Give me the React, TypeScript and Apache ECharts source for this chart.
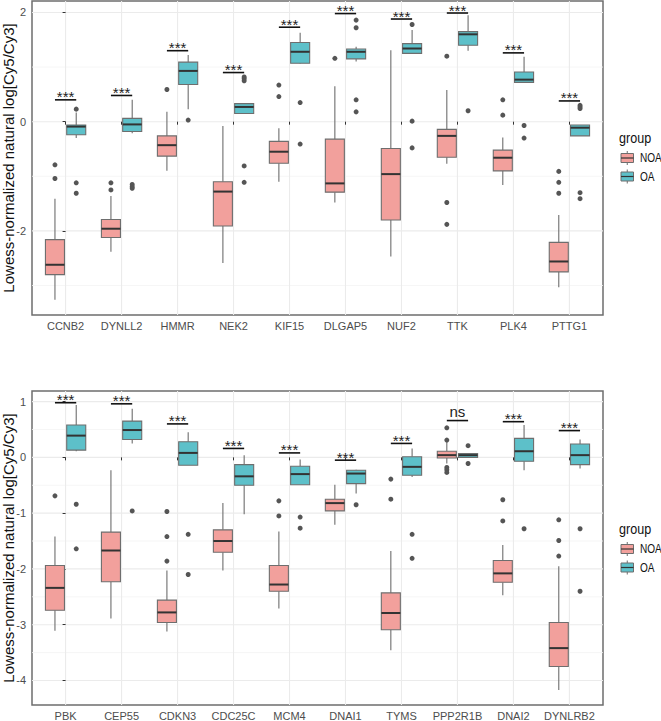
import React, { useEffect, useRef } from "react";
import * as echarts from "echarts";

// ---------------- DATA ----------------
const genesTop = ["CCNB2", "DYNLL2", "HMMR", "NEK2", "KIF15", "DLGAP5", "NUF2", "TTK", "PLK4", "PTTG1"];
const genesBottom = ["PBK", "CEP55", "CDKN3", "CDC25C", "MCM4", "DNAI1", "TYMS", "PPP2R1B", "DNAI2", "DYNLRB2"];
const groups = ["NOA", "OA"];

// [lower whisker, Q1, median, Q3, upper whisker]
const noaTop = [
  [-3.26, -2.8, -2.62, -2.16, -1.41],
  [-2.38, -2.12, -1.96, -1.79, -1.36],
  [-0.9, -0.63, -0.43, -0.26, 0.18],
  [-2.59, -1.91, -1.28, -1.1, -0.08],
  [-1.1, -0.76, -0.55, -0.36, -0.12],
  [-1.48, -1.29, -1.13, -0.32, 0.65],
  [-2.47, -1.8, -0.96, -0.49, 1.31],
  [-0.77, -0.65, -0.26, -0.14, 0.58],
  [-1.16, -0.9, -0.66, -0.52, -0.29],
  [-3.03, -2.75, -2.56, -2.21, -1.71],
];
const oaTop = [
  [-0.3, -0.24, -0.09, -0.06, 0.17],
  [-0.21, -0.18, -0.05, 0.06, 0.4],
  [0.23, 0.68, 0.93, 1.09, 1.22],
  [0.15, 0.15, 0.27, 0.33, 0.33],
  [1.06, 1.07, 1.28, 1.45, 1.63],
  [1.1, 1.15, 1.28, 1.33, 1.37],
  [1.24, 1.25, 1.34, 1.43, 1.68],
  [1.3, 1.4, 1.6, 1.65, 1.95],
  [0.71, 0.72, 0.77, 0.91, 1.19],
  [-0.26, -0.26, -0.11, -0.06, -0.06],
];
const noaOutTop = [
  [-0.79, -1.04],
  [-1.12, -1.25],
  [0.59],
  [],
  [0.67, 0.46],
  [1.16],
  [],
  [1.2, -1.48, -1.88],
  [0.4, 0.12],
  [-0.91, -1.11, -1.31],
];
const oaOutTop = [
  [0.23, -1.12, -1.31],
  [-1.15, -1.19, -1.22],
  [0.03],
  [0.82, 0.79, 0.75, -0.81, -1.11],
  [0.35, -0.41],
  [1.86, 1.72, 0.4, 0.18],
  [1.78, 0.01, -0.48],
  [0.2],
  [-0.07, -0.3],
  [0.3, 0.27, 0.24, -1.3, -1.41],
];
const sigTop = ["***", "***", "***", "***", "***", "***", "***", "***", "***", "***"];
const bracketYTop = [0.4, 0.48, 1.3, 0.9, 1.73, 1.98, 1.88, 1.99, 1.26, 0.38];

const noaBottom = [
  [-3.11, -2.74, -2.34, -1.94, -1.42],
  [-2.89, -2.23, -1.67, -1.34, -0.23],
  [-3.12, -2.96, -2.78, -2.56, -2.03],
  [-2.03, -1.7, -1.5, -1.3, -0.82],
  [-2.71, -2.4, -2.28, -1.94, -1.33],
  [-1.21, -0.96, -0.82, -0.75, -0.49],
  [-3.46, -3.09, -2.79, -2.43, -1.68],
  [-0.11, -0.01, 0.04, 0.11, 0.28],
  [-2.47, -2.24, -2.08, -1.85, -1.57],
  [-4.17, -3.75, -3.42, -2.96, -1.95],
];
const oaBottom = [
  [0.11, 0.13, 0.39, 0.58, 0.94],
  [0.25, 0.32, 0.49, 0.65, 0.87],
  [-0.14, -0.14, 0.08, 0.28, 0.45],
  [-1.02, -0.5, -0.34, -0.13, 0.04],
  [-0.49, -0.49, -0.3, -0.16, -0.04],
  [-0.65, -0.47, -0.29, -0.23, -0.22],
  [-0.35, -0.32, -0.17, 0.01, 0.16],
  [0.0, 0.0, 0.04, 0.07, 0.07],
  [-0.23, -0.07, 0.11, 0.34, 0.58],
  [-0.2, -0.13, 0.04, 0.24, 0.32],
];
const noaOutBottom = [
  [-0.69],
  [],
  [-0.97, -1.42, -1.86],
  [],
  [-0.78, -1.05],
  [],
  [-0.39, -0.75],
  [0.53, 0.31, -0.18, -0.22, -0.27],
  [-0.76, -1.14],
  [-1.12, -1.49, -1.77],
];
const oaOutBottom = [
  [-0.84, -1.64],
  [-0.96],
  [-1.38, -2.1],
  [],
  [-1.07, -1.27],
  [-0.85],
  [-1.38, -1.81],
  [0.21, -0.11],
  [-1.28],
  [-1.28, -2.4],
];
const sigBottom = ["***", "***", "***", "***", "***", "***", "***", "ns", "***", "***"];
const bracketYBottom = [0.98, 0.96, 0.6, 0.16, 0.08, -0.05, 0.25, 0.66, 0.64, 0.48];

const yTicksTop = [-2, 0, 2];
const yMinorTop = [-3, -1, 1];
const yTicksBottom = [-4, -3, -2, -1, 0, 1];
const yMinorBottom = [-3.5, -2.5, -1.5, -0.5, 0.5];

// ---------------- STYLE ----------------
const FONT = "'Liberation Sans', Arial, sans-serif";
const FILLS = ["#F2A09C", "#5DC0C9"];
const BOX_STROKE = "#6E6E6E";
const MEDIAN = "#333333";
const OFFSETS = [-0.19, 0.19];
const HALF_W = 0.17;
const SQUEEZE = 0.84;

type Panel = {
  genes: string[];
  noa: number[][];
  oa: number[][];
  noaOut: number[][];
  oaOut: number[][];
  sig: string[];
  bracketY: number[];
  ticks: number[];
  minor: number[];
  min: number;
  max: number;
  top: number;
};

const panels: Panel[] = [
  { genes: genesTop, noa: noaTop, oa: oaTop, noaOut: noaOutTop, oaOut: oaOutTop, sig: sigTop, bracketY: bracketYTop, ticks: yTicksTop, minor: yMinorTop, min: -3.54, max: 2.21, top: 1 },
  { genes: genesBottom, noa: noaBottom, oa: oaBottom, noaOut: noaOutBottom, oaOut: oaOutBottom, sig: sigBottom, bracketY: bracketYBottom, ticks: yTicksBottom, minor: yMinorBottom, min: -4.44, max: 1.19, top: 391 },
];

const GRID_LEFT = 32;
const GRID_W = 571;
const GRID_H = 314;

function boxRender(g: number) {
  return (params: any, api: any) => {
    const i = api.value(0);
    const lo = api.value(1), q1 = api.value(2), med = api.value(3), q3 = api.value(4), hi = api.value(5);
    const xc = i + OFFSETS[g];
    const pL = api.coord([xc - HALF_W, q3]);
    const pR = api.coord([xc + HALF_W, q1]);
    const cx = api.coord([xc, med])[0];
    const yMed = api.coord([xc, med])[1];
    const yHi = api.coord([xc, hi])[1];
    const yLo = api.coord([xc, lo])[1];
    return {
      type: "group",
      children: [
        { type: "line", shape: { x1: cx, y1: yHi, x2: cx, y2: pL[1] }, style: { stroke: BOX_STROKE, lineWidth: 1.1 } },
        { type: "line", shape: { x1: cx, y1: pR[1], x2: cx, y2: yLo }, style: { stroke: BOX_STROKE, lineWidth: 1.1 } },
        { type: "rect", shape: { x: pL[0], y: pL[1], width: pR[0] - pL[0], height: Math.max(pR[1] - pL[1], 1) }, style: { fill: FILLS[g], stroke: BOX_STROKE, lineWidth: 1.1 } },
        { type: "line", shape: { x1: pL[0], y1: yMed, x2: pR[0], y2: yMed }, style: { stroke: MEDIAN, lineWidth: 2 } },
      ],
    };
  };
}

function buildOption() {
  const grids: any[] = [];
  const xAxes: any[] = [];
  const yAxes: any[] = [];
  const series: any[] = [];
  const graphics: any[] = [];

  panels.forEach((p, k) => {
    grids.push({
      left: GRID_LEFT, top: p.top, width: GRID_W, height: GRID_H,
      show: true, borderColor: "#6E6E6E", borderWidth: 1.5, backgroundColor: "#FFFFFF",
    });
    const idx = p.genes.map((_, i) => i);
    xAxes.push({
      type: "value", gridIndex: k, min: -0.6, max: 9.6,
      axisLine: { show: false },
      splitLine: { show: false },
      axisTick: { show: true, length: 3, lineStyle: { color: "#333333" }, customValues: idx },
      axisLabel: {
        customValues: idx, margin: 5, fontSize: 11, color: "#4D4D4D", fontFamily: FONT,
        formatter: (v: number) => p.genes[Math.round(v)] ?? "",
      },
    });
    yAxes.push({
      type: "value", gridIndex: k, min: p.min, max: p.max,
      axisLine: { show: false },
      splitLine: { show: false },
      axisTick: { show: true, length: 3, lineStyle: { color: "#333333" }, customValues: p.ticks },
      axisLabel: { customValues: p.ticks, margin: 6, fontSize: 11, color: "#4D4D4D", fontFamily: FONT },
    });

    // gridlines
    series.push({
      type: "custom", xAxisIndex: k, yAxisIndex: k, silent: true, z: 0,
      data: [...p.minor.map((v) => [0, v, 0]), ...p.ticks.map((v) => [0, v, 1])],
      encode: { x: 0, y: 1 },
      renderItem: (params: any, api: any) => {
        const cs = params.coordSys;
        const y = api.coord([0, api.value(1)])[1];
        const major = api.value(2) === 1;
        return { type: "line", shape: { x1: cs.x, y1: y, x2: cs.x + cs.width, y2: y }, style: { stroke: major ? "#EBEBEB" : "#F4F4F4", lineWidth: major ? 1.1 : 0.8 } };
      },
    });
    series.push({
      type: "custom", xAxisIndex: k, yAxisIndex: k, silent: true, z: 0,
      data: idx.map((i) => [i, 0]),
      encode: { x: 0, y: 1 },
      renderItem: (params: any, api: any) => {
        const cs = params.coordSys;
        const x = api.coord([api.value(0), 0])[0];
        return { type: "line", shape: { x1: x, y1: cs.y, x2: x, y2: cs.y + cs.height }, style: { stroke: "#EBEBEB", lineWidth: 1.1 } };
      },
    });

    // boxes
    [p.noa, p.oa].forEach((arr, g) => {
      series.push({
        type: "custom", name: groups[g], xAxisIndex: k, yAxisIndex: k, z: 2,
        data: arr.map((b, i) => [i, ...b]),
        encode: { x: 0, y: [1, 2, 3, 4, 5] },
        renderItem: boxRender(g),
      });
    });

    // outliers
    [p.noaOut, p.oaOut].forEach((arr, g) => {
      const pts: number[][] = [];
      arr.forEach((vals, i) => vals.forEach((v) => pts.push([i + OFFSETS[g], v])));
      series.push({
        type: "scatter", xAxisIndex: k, yAxisIndex: k, z: 3, silent: true,
        symbol: "circle", symbolSize: 5,
        itemStyle: { color: "#555555", opacity: 1 },
        data: pts,
      });
    });

    // significance brackets
    series.push({
      type: "custom", xAxisIndex: k, yAxisIndex: k, z: 4, silent: true,
      data: p.bracketY.map((y, i) => [i, y]),
      encode: { x: 0, y: 1 },
      renderItem: (params: any, api: any) => {
        const i = api.value(0);
        const yv = api.value(1);
        const a = api.coord([i + OFFSETS[0], yv]);
        const b = api.coord([i + OFFSETS[1], yv]);
        const lab = p.sig[params.dataIndex];
        const isNs = lab === "ns";
        return {
          type: "group",
          children: [
            { type: "line", shape: { x1: a[0], y1: a[1], x2: b[0], y2: b[1] }, style: { stroke: "#111111", lineWidth: 1.6 } },
            {
              type: "text", x: (a[0] + b[0]) / 2, y: isNs ? a[1] - 2 : a[1] - 3,
              style: {
                text: lab, fill: "#222222", fontFamily: FONT, fontSize: isNs ? 15 : 15,
                align: "center", verticalAlign: isNs ? "bottom" : "middle",
              },
            },
          ],
        };
      },
    });

    // y title
    graphics.push({
      type: "text", x: 8.5, y: p.top + GRID_H / 2, rotation: Math.PI / 2,
      style: { text: "Lowess-normalized natural log[Cy5/Cy3]", fontFamily: FONT, fontSize: 15, fill: "#111111", align: "center", verticalAlign: "middle" },
    });
  });

  // legends
  const legendTops = [138, 529];
  legendTops.forEach((ly) => {
    graphics.push({
      type: "text", x: 619, y: ly, scaleX: SQUEEZE,
      style: { text: "group", fontFamily: FONT, fontSize: 15, fill: "#111111", align: "left", verticalAlign: "middle" },
    });
    groups.forEach((gname, g) => {
      const cy = ly + 20 + g * 18.5;
      const x0 = 621, w = 12.5, h = 9;
      graphics.push({
        type: "group",
        children: [
          { type: "line", shape: { x1: x0 + w / 2, y1: cy - h / 2 - 2.5, x2: x0 + w / 2, y2: cy - h / 2 }, style: { stroke: BOX_STROKE, lineWidth: 1 } },
          { type: "line", shape: { x1: x0 + w / 2, y1: cy + h / 2, x2: x0 + w / 2, y2: cy + h / 2 + 2.5 }, style: { stroke: BOX_STROKE, lineWidth: 1 } },
          { type: "rect", shape: { x: x0, y: cy - h / 2, width: w, height: h }, style: { fill: FILLS[g], stroke: BOX_STROKE, lineWidth: 1 } },
          { type: "line", shape: { x1: x0, y1: cy, x2: x0 + w, y2: cy }, style: { stroke: MEDIAN, lineWidth: 1.2 } },
        ],
      });
      graphics.push({
        type: "text", x: 640, y: cy, scaleX: SQUEEZE,
        style: { text: gname, fontFamily: FONT, fontSize: 12, fill: "#111111", align: "left", verticalAlign: "middle" },
      });
    });
  });

  return {
    animation: false,
    backgroundColor: "#FFFFFF",
    grid: grids,
    xAxis: xAxes,
    yAxis: yAxes,
    series,
    graphic: graphics,
  };
}

export default function App() {
  const ref = useRef<HTMLDivElement>(null);
  useEffect(() => {
    if (!ref.current) return;
    const chart = echarts.init(ref.current, null, { renderer: "svg" });
    chart.setOption(buildOption() as any);
    return () => chart.dispose();
  }, []);
  return <div ref={ref} style={{ position: "fixed", left: 0, top: 0, width: 661, height: 721 }} />;
}
